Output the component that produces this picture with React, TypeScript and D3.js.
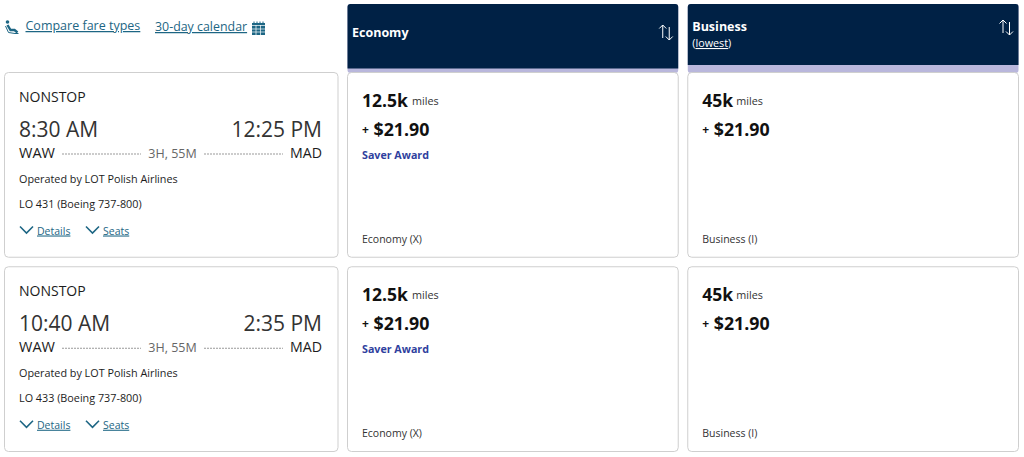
import React from "react";
import * as d3 from "d3";

const width = 1024;
const height = 457;

const departs = ["8:30 AM", "10:40 AM"];
const arrives = ["12:25 PM", "2:35 PM"];
const flightNumbers = ["LO 431 (Boeing 737-800)", "LO 433 (Boeing 737-800)"];
const fareNames = ["Economy", "Business"];
const fareSubtitles = ["", "lowest"];
const fareMiles = ["12.5k", "45k"];
const fareCash = ["$21.90", "$21.90"];
const fareBadges = ["Saver Award", ""];
const fareClasses = ["Economy (X)", "Business (I)"];

const font = "'Open Sans', sans-serif";
const link = "#1d6684";
const ink = "#1c1c1c";
const navy = "#002145";
const lavender = "#b9b7dc";
const border = "#cfcfcf";

// rows and fare columns are laid out with band scales
const rowY = d3.scaleBand<number>().domain([0, 1]).range([72.5, 451.5]).paddingInner(0.049);
const fareX = d3.scaleBand<number>().domain([0, 1]).range([347.5, 1018.5]).paddingInner(0.028);

function Chevron({ x, y }: any) {
  return <path d={`M${x} ${y}l6.5 6.5l6.5 -6.5`} fill="none" stroke={link} strokeWidth={1.6} />;
}

function SortIcon({ x, y }: any) {
  return (
    <g fill="none" stroke="#fff" strokeWidth={1}>
      <path d={`M${x + 3.5} ${y + 13}V${y}M${x} ${y + 3.5}L${x + 3.5} ${y}L${x + 7} ${y + 3.5}`} />
      <path d={`M${x + 10} ${y + 2}V${y + 15}M${x + 6.5} ${y + 11.5}L${x + 10} ${y + 15}L${x + 13.5} ${y + 11.5}`} />
    </g>
  );
}

function FlightCard({ i }: any) {
  const top = rowY(i) as number;
  const y = (d: number) => top + d;
  return (
    <g fontFamily={font} fill={ink}>
      <rect x={4.5} y={top} width={333.5} height={rowY.bandwidth()} rx={4} fill="#fff" stroke={border} />
      <text x={19} y={y(29.5)} fontSize={14}>NONSTOP</text>
      <text x={19} y={y(64)} fontSize={21} fill="#333">{departs[i]}</text>
      <text x={322} y={y(64)} fontSize={21} fill="#333" textAnchor="end">{arrives[i]}</text>
      <text x={19} y={y(85)} fontSize={14.5}>WAW</text>
      <text x={322} y={y(85)} fontSize={14.2} textAnchor="end">MAD</text>
      <line x1={62} x2={141} y1={y(81.5)} y2={y(81.5)} stroke="#999" strokeDasharray="2 1" />
      <line x1={204} x2={283} y1={y(81.5)} y2={y(81.5)} stroke="#999" strokeDasharray="2 1" />
      <text x={172.5} y={y(85)} fontSize={12.5} fill="#666" textAnchor="middle">3H, 55M</text>
      <text x={19} y={y(110.5)} fontSize={10.8}>Operated by LOT Polish Airlines</text>
      <text x={19} y={y(135)} fontSize={10.8}>{flightNumbers[i]}</text>
      <Chevron x={20} y={y(154)} />
      <text x={37} y={y(162)} fontSize={10.5} fill={link} textDecoration="underline">Details</text>
      <Chevron x={86} y={y(154)} />
      <text x={103} y={y(162)} fontSize={10.5} fill={link} textDecoration="underline">Seats</text>
    </g>
  );
}

function FareHeader({ j }: any) {
  const x = fareX(j) as number;
  const w = fareX.bandwidth();
  const hasSub = fareSubtitles[j] !== "";
  const bottom = hasSub ? 65 : 68.5;
  return (
    <g fontFamily={font}>
      <rect x={x} y={4} width={w} height={69} rx={3} fill={lavender} />
      <path d={`M${x} ${bottom}V7a3 3 0 0 1 3 -3H${x + w - 3}a3 3 0 0 1 3 3V${bottom}Z`} fill={navy} />
      <text x={x + 4.5} y={hasSub ? 31 : 36.5} fontSize={12.5} fontWeight={700} fill="#fff">{fareNames[j]}</text>
      {hasSub && (
        <text x={x + 4.5} y={47} fontSize={10.8} fill="#fff">
          (<tspan textDecoration="underline">{fareSubtitles[j]}</tspan>)
        </text>
      )}
      <SortIcon x={x + w - 19} y={hasSub ? 20 : 25} />
    </g>
  );
}

function FareCard({ i, j }: any) {
  const top = rowY(i) as number;
  const x = fareX(j) as number;
  const y = (d: number) => top + d;
  const milesWidth = j === 0 ? 47 : 31;
  return (
    <g fontFamily={font} fill="#111">
      <rect x={x} y={top} width={fareX.bandwidth()} height={rowY.bandwidth()} rx={4} fill="#fff" stroke={border} />
      <text x={x + 14.5} y={y(34)} fontSize={17.5} fontWeight={700}>{fareMiles[j]}</text>
      <text x={x + 14.5 + milesWidth + 3} y={y(32.5)} fontSize={10.8} fill="#333">miles</text>
      <text x={x + 14.5} y={y(61)} fontSize={12} fontWeight={700}>+</text>
      <text x={x + 26} y={y(63.5)} fontSize={17.8} fontWeight={700}>{fareCash[j]}</text>
      {fareBadges[j] && (
        <text x={x + 14.5} y={y(86)} fontSize={10.7} fontWeight={700} fill="#2f3f9e">{fareBadges[j]}</text>
      )}
      <text x={x + 14.5} y={y(170)} fontSize={10.5} fill="#333">{fareClasses[j]}</text>
    </g>
  );
}

export default function App() {
  return (
    <svg
      width={width}
      height={height}
      viewBox={`0 0 ${width} ${height}`}
      style={{ position: "absolute", left: 0, top: 0, background: "#fff" }}
    >
      {/* top links */}
      <g fontFamily={font} fontSize={12.5} fill={link}>
        <circle cx={7.5} cy={22} r={1.8} />
        <path d="M7.5 25L10.5 30H14.5L17.5 32.5" fill="none" stroke={link} strokeWidth={2.4} />
        <path d="M5.5 26L8.5 32.5L15 33.5L18.5 33.5" fill="none" stroke={link} strokeWidth={1} />
        <text x={25.5} y={30} textDecoration="underline">Compare fare types</text>
        <text x={155} y={31} fontSize={12.4} textDecoration="underline">30-day calendar</text>
        <rect x={252} y={23} width={13} height={12} fill={link} />
        <path d="M254 21.5V23.5M257 21.5V23.5M260 21.5V23.5M263 21.5V23.5" stroke={link} strokeWidth={1} />
        <path d="M252 25.5H265M252 29H265M252 32H265M256 25V35M260.5 25V35" stroke="#fff" strokeWidth={0.7} />
      </g>
      {fareNames.map((_, j) => <FareHeader key={j} j={j} />)}
      {departs.map((_, i) => (
        <g key={i}>
          <FlightCard i={i} />
          {fareNames.map((_, j) => <FareCard key={j} i={i} j={j} />)}
        </g>
      ))}
    </svg>
  );
}
